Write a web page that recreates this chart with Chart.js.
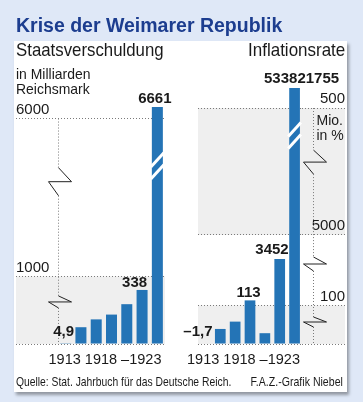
<!DOCTYPE html>
<html lang="de">
<head>
<meta charset="utf-8">
<title>Krise der Weimarer Republik</title>
<script src="https://cdn.jsdelivr.net/npm/chart.js@4.4.0/dist/chart.umd.min.js"></script>
<style>
  html, body { margin: 0; padding: 0; }
  body {
    width: 363px; height: 402px; position: relative; overflow: hidden;
    background: #dfe8f7; color: #1a1a1a;
    font-family: "Liberation Sans", sans-serif;
  }
  .panel {
    position: absolute; left: 14px; top: 41px; width: 333px; height: 351px;
    background: #fff; box-shadow: 2px 3px 3px rgba(0, 0, 0, 0.35);
  }
  canvas { position: absolute; top: 0; }
  .txt { position: absolute; white-space: nowrap; line-height: 1; transform-origin: 0 0; }
  .txt.r { transform-origin: 100% 0; }
  #title { left: 16px; top: 13.5px; font: bold 19.5px "Liberation Sans", sans-serif; color: #1c3d8f; }
  #debtHead { left: 16px; top: 42px; font-size: 17.7px; transform: scaleX(0.95); }
  #inflHead { right: 18px; top: 42px; font-size: 17.7px; transform: scaleX(0.96); }
  #debtUnit { left: 16px; top: 66px; font-size: 15px; line-height: 15px; transform: scaleX(0.93); }
  #source { left: 16px; top: 376px; font-size: 12.6px; transform: scaleX(0.82); }
  #credit { right: 20px; top: 376px; font-size: 12.6px; transform: scaleX(0.84); }
</style>
</head>
<body>
<div class="panel"></div>
<canvas id="debtChart" width="180" height="402" style="left:0"></canvas>
<canvas id="inflChart" width="183" height="402" style="left:180px"></canvas>
<div class="txt" id="title">Krise der Weimarer Republik</div>
<div class="txt" id="debtHead">Staatsverschuldung</div>
<div class="txt r" id="inflHead">Inflationsrate</div>
<div class="txt" id="debtUnit">in Milliarden<br>Reichsmark</div>
<div class="txt" id="source">Quelle: Stat. Jahrbuch für das Deutsche Reich.</div>
<div class="txt r" id="credit">F.A.Z.-Grafik Niebel</div>
<script>
'use strict'

// data
let years = ['1913', '1918', '1919', '1920', '1921', '1922', '1923'];
let debtValues = [4.9, 105, 154, 184, 249, 338, 6661];          // Mrd. Reichsmark
let inflationValues = [-1.7, 39, 58, 113, 28, 3452, 533821755]; // in %
let debtTicks = [0, 1000, 6000];
let inflationTicks = [0, 100, 5000, 500000000];
let debtLabelled = [0, 5, 6];
let inflationLabelled = [0, 3, 5, 6];

let barBlue = '#2474b6';
let yearText = years[0] + ' ' + years[1] + ' \u2013' + years[years.length - 1];

// broken value axis: piecewise linear between [value, share of axis height] stops
class BrokenScale extends Chart.LinearScale {
    buildTicks() {
        return this.options.tickValues.map(v => ({ value: v }));
    }
    toDecimal(value) {
        let s = this.options.stops;
        let i = 1;
        while (i < s.length - 1 && value > s[i][0]) i++;
        let a = s[i - 1], b = s[i];
        return a[1] + (value - a[0]) / (b[0] - a[0]) * (b[1] - a[1]);
    }
    getPixelForValue(value) {
        if (value === null || value === undefined || isNaN(value)) return NaN;
        return this.getPixelForDecimal(this.toDecimal(value));
    }
    getValueForPixel(pixel) {
        let d = this.getDecimalForPixel(pixel);
        let s = this.options.stops;
        let i = 1;
        while (i < s.length - 1 && d > s[i][1]) i++;
        let a = s[i - 1], b = s[i];
        return a[0] + (d - a[1]) / (b[1] - a[1]) * (b[0] - a[0]);
    }
}
BrokenScale.id = 'broken';
BrokenScale.defaults = Chart.LinearScale.defaults;
Chart.register(BrokenScale);

Chart.defaults.font.family = '"Liberation Sans", sans-serif';
Chart.defaults.color = '#1a1a1a';

function fmt(v) {
    return String(v).replace('.', ',').replace('-', '\u2013');
}

// grey bands, dotted break axis with zigzags, cut on the tall bar, value labels
function makeDecor(cfg) {
    return {
        id: 'decor',
        beforeDraw(chart) {
            let ctx = chart.ctx, ca = chart.chartArea, y = chart.scales.y;
            let x0 = Math.min(y.left, ca.left), x1 = Math.max(y.right, ca.right);
            ctx.save();
            ctx.fillStyle = '#efefef';
            cfg.bands.forEach(b => {
                let ya = y.getPixelForValue(b[0]), yb = y.getPixelForValue(b[1]);
                ctx.fillRect(x0, yb, x1 - x0, ya - yb);
            });
            ctx.restore();
        },
        afterDatasetsDraw(chart) {
            let ctx = chart.ctx, ca = chart.chartArea, y = chart.scales.y;
            let meta = chart.getDatasetMeta(0);
            let data = chart.data.datasets[0].data;
            let ax = Math.round(cfg.side === 'left' ? ca.left : ca.right + cfg.axisGap) + 0.5;
            let top = y.getPixelForValue(Math.max(...cfg.ticks));
            let bottom = y.getPixelForValue(0);
            let marks = cfg.marks.map(m => ({ y: y.getPixelForValue(m.v), h: m.h })).sort((a, b) => a.y - b.y);

            ctx.save();
            ctx.strokeStyle = '#7a7a7a';
            ctx.lineWidth = 1;
            ctx.setLineDash([1, 2]);
            ctx.beginPath();
            let cur = top;
            marks.forEach(m => {
                ctx.moveTo(ax, cur);
                ctx.lineTo(ax, m.y - m.h / 2);
                cur = m.y + m.h / 2;
            });
            ctx.moveTo(ax, cur);
            ctx.lineTo(ax, bottom);
            ctx.stroke();

            ctx.setLineDash([]);
            ctx.strokeStyle = '#222';
            ctx.beginPath();
            marks.forEach(m => {
                ctx.moveTo(ax, m.y - m.h / 2);
                ctx.lineTo(ax + 13, m.y);
                ctx.lineTo(ax - 10, m.y);
                ctx.lineTo(ax, m.y + m.h / 2);
            });
            ctx.stroke();

            // cut through the tallest bar
            let bar = meta.data[cfg.cut.index];
            let cy = y.getPixelForValue(cfg.cut.v);
            let hw = bar.width / 2 + 1;
            ctx.strokeStyle = '#fff';
            ctx.lineWidth = 3;
            [-6, 6].forEach(off => {
                ctx.beginPath();
                ctx.moveTo(bar.x - hw, cy + off + hw * 1.1);
                ctx.lineTo(bar.x + hw, cy + off - hw * 1.1);
                ctx.stroke();
            });

            // unit note under a grid line
            if (cfg.unit) {
                let uy = y.getPixelForValue(cfg.unit.v);
                ctx.fillStyle = '#1a1a1a';
                ctx.font = '14px "Liberation Sans", sans-serif';
                ctx.textAlign = 'left';
                ctx.textBaseline = 'alphabetic';
                cfg.unit.lines.forEach((t, k) => ctx.fillText(t, ax + 3, uy + 17 + k * 15));
            }

            // value labels
            ctx.fillStyle = '#1a1a1a';
            ctx.font = 'bold 15px "Liberation Sans", sans-serif';
            ctx.textAlign = 'center';
            ctx.textBaseline = 'alphabetic';
            cfg.labelled.forEach(i => {
                let el = meta.data[i];
                let sh = cfg.shift[i] || [0, -4];
                ctx.fillText(fmt(data[i]), el.x + sh[0], Math.min(el.y, el.base) + sh[1]);
            });
            ctx.restore();
        }
    };
}

function renderChart(canvas, values, ticks, stops, side, pad, tickLabel, decor) {
    let chartObj = {
        type: 'bar',
        data: {
            labels: years,
            datasets: [{
                data: values,
                backgroundColor: barBlue,
                categoryPercentage: 0.72,
                barPercentage: 1
            }]
        },
        options: {
            responsive: false,
            maintainAspectRatio: false,
            animation: false,
            events: [],
            layout: { padding: pad },
            plugins: {
                legend: { display: false },
                tooltip: { enabled: false }
            },
            scales: {
                x: {
                    grid: { display: false, drawTicks: false },
                    border: { display: false },
                    afterFit: (s) => { s.height = 26; },
                    ticks: {
                        autoSkip: false,
                        maxRotation: 0,
                        minRotation: 0,
                        padding: 7,
                        labelOffset: -6.5,
                        font: { size: 14.5 },
                        color: '#1a1a1a',
                        callback: (v, i) => i === 3 ? yearText : ''
                    }
                },
                y: {
                    type: 'broken',
                    position: side,
                    stops: stops,
                    tickValues: ticks,
                    afterFit: (s) => { s.width = decor.axisWidth; },
                    grid: {
                        color: '#7a7a7a',
                        lineWidth: 1,
                        tickLength: decor.axisWidth,
                        tickColor: '#7a7a7a',
                        tickBorderDash: [1, 2]
                    },
                    border: { display: false, dash: [1, 2] },
                    ticks: {
                        crossAlign: 'far',
                        labelOffset: -9,
                        padding: 0,
                        font: { size: 15 },
                        color: '#1a1a1a',
                        callback: tickLabel
                    }
                }
            }
        },
        plugins: [makeDecor(decor)]
    };
    return new Chart(canvas, chartObj);
}

renderChart(
    document.getElementById('debtChart'),
    debtValues,
    debtTicks,
    [[0, 0], [350, 0.212], [1000, 0.256], [6000, 0.854], [7000, 0.920]],
    'left',
    { left: 16, right: 15, top: 80, bottom: 32 },
    (v) => v === 0 ? '' : String(v),
    {
        side: 'left', axisGap: 0, axisWidth: 42, ticks: debtTicks,
        bands: [[0, 1000]],
        marks: [{ v: 4000, h: 28 }, { v: 263, h: 12 }],
        cut: { index: 6, v: 4500 },
        labelled: debtLabelled,
        shift: { 0: [-2, -7], 5: [-7.5, -3], 6: [-2.5, -4] }
    }
);

renderChart(
    document.getElementById('inflChart'),
    inflationValues,
    inflationTicks,
    [[0, 0], [120, 0.1754], [4000, 0.3462], [5000, 0.4129], [500000000, 0.8939], [600000000, 1.1178]],
    'right',
    { left: 18, right: 18, top: 80, bottom: 32 },
    (v) => v === 0 ? '' : (v >= 1000000 ? String(v / 1000000) : String(v)),
    {
        side: 'right', axisGap: 11, axisWidth: 43, ticks: inflationTicks,
        bands: [[0, 100], [5000, 500000000]],
        marks: [{ v: 287000000, h: 24 }, { v: 3019, h: 14 }, { v: 57, h: 10 }],
        cut: { index: 6, v: 392000000 },
        labelled: inflationLabelled,
        shift: { 0: [-7.5, -9], 3: [-1.5, -3.5], 5: [-7.7, -5], 6: [7, -4.7] },
        unit: { v: 500000000, lines: ['Mio.', 'in %'] }
    }
);
</script>
</body>
</html>
